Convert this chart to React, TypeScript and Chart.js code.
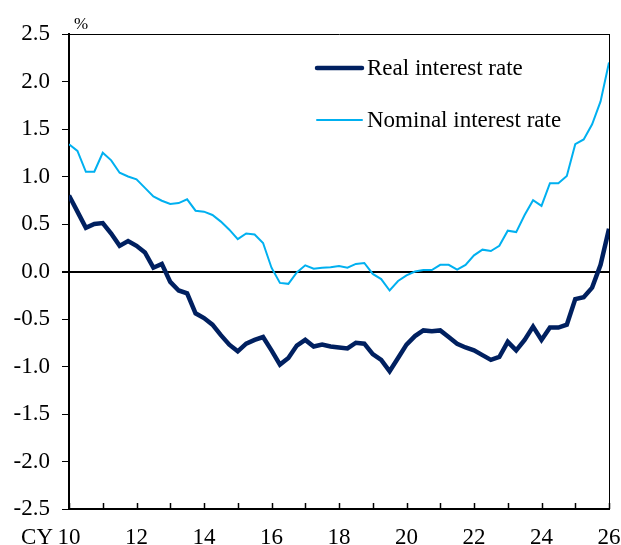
import React, { useEffect, useRef } from 'react';
import { Chart, registerables } from 'chart.js';

Chart.register(...registerables);

// ---- data ----
const FIRST_YEAR = 10;
const LAST_YEAR = 26;
const QUARTERS_PER_YEAR = 4;
const xLabelYears = [10, 12, 14, 16, 18, 20, 22, 24, 26];
const xPrefix = 'CY';
const unitLabel = '%';
const legendLabels = ['Real interest rate', 'Nominal interest rate'];

const realRate = [
  0.80, 0.63, 0.46, 0.50, 0.51, 0.40, 0.27, 0.32, 0.27, 0.20, 0.04, 0.08,
  -0.11, -0.20, -0.23, -0.44, -0.49, -0.56, -0.67, -0.77, -0.84, -0.76, -0.72, -0.69,
  -0.83, -0.98, -0.91, -0.78, -0.72, -0.79, -0.77, -0.79, -0.80, -0.81, -0.75, -0.76,
  -0.87, -0.93, -1.05, -0.91, -0.77, -0.68, -0.62, -0.63, -0.62, -0.69, -0.76, -0.80,
  -0.83, -0.88, -0.93, -0.90, -0.74, -0.83, -0.72, -0.58, -0.72, -0.59, -0.59, -0.56,
  -0.29, -0.27, -0.17, 0.07, 0.45,
];

const nominalRate = [
  1.34, 1.27, 1.05, 1.05, 1.25, 1.17, 1.04, 1.00, 0.97, 0.88, 0.79, 0.745,
  0.71, 0.72, 0.76, 0.64, 0.63, 0.595, 0.525, 0.44, 0.34, 0.40, 0.39, 0.30,
  0.04, -0.12, -0.13, -0.01, 0.065, 0.03, 0.04, 0.045, 0.058, 0.04, 0.08, 0.09,
  -0.026, -0.08, -0.20, -0.10, -0.04, 0.00, 0.016, 0.016, 0.07, 0.07, 0.02, 0.07,
  0.17, 0.23, 0.215, 0.27, 0.43, 0.415, 0.595, 0.75, 0.69, 0.93, 0.93, 1.005,
  1.34, 1.39, 1.55, 1.79, 2.20,
];

const REAL_COLOR = '#002060';
const NOMINAL_COLOR = '#00B0F0';
const FONT = '"Liberation Serif", "Times New Roman", serif';
const FONT_SIZE = 23;

const toPoints = (arr: number[]) =>
  arr.map((v, i) => ({ x: FIRST_YEAR + i / QUARTERS_PER_YEAR, y: v }));

const overlayPlugin = {
  id: 'overlay',
  afterDraw(chart: any) {
    const { ctx, chartArea, scales } = chart;
    const xs = scales.x;
    ctx.save();
    // inward tick marks on x axis
    ctx.strokeStyle = '#000';
    ctx.lineWidth = 1.5;
    for (let yr = FIRST_YEAR; yr <= LAST_YEAR; yr++) {
      const px = Math.round(xs.getPixelForValue(yr)) + 0.5;
      ctx.beginPath();
      ctx.moveTo(px, chartArea.bottom);
      ctx.lineTo(px, chartArea.bottom - 6);
      ctx.stroke();
    }
    // "CY" prefix
    ctx.fillStyle = '#000';
    ctx.font = `${FONT_SIZE}px ${FONT}`;
    ctx.textAlign = 'right';
    ctx.textBaseline = 'alphabetic';
    ctx.fillText(xPrefix, 53, 544);
    // unit
    ctx.font = `17px ${FONT}`;
    ctx.textAlign = 'left';
    ctx.fillText(unitLabel, 74, 29);
    // legend
    const items = [
      { label: legendLabels[0], color: REAL_COLOR, width: 4.5, y: 68 },
      { label: legendLabels[1], color: NOMINAL_COLOR, width: 2, y: 120 },
    ];
    ctx.font = `${FONT_SIZE}px ${FONT}`;
    ctx.textBaseline = 'middle';
    for (const it of items) {
      ctx.strokeStyle = it.color;
      ctx.lineWidth = it.width;
      ctx.lineCap = 'round';
      ctx.beginPath();
      ctx.moveTo(317, it.y);
      ctx.lineTo(362, it.y);
      ctx.stroke();
      ctx.fillStyle = '#000';
      ctx.fillText(it.label, 367, it.y + 1);
    }
    ctx.restore();
  },
};

export default function App() {
  const ref = useRef<HTMLCanvasElement>(null);
  useEffect(() => {
    if (!ref.current) return;
    const chart = new Chart(ref.current, {
      type: 'line',
      data: {
        datasets: [
          {
            label: legendLabels[1],
            data: toPoints(nominalRate),
            borderColor: NOMINAL_COLOR,
            borderWidth: 2,
            pointRadius: 0,
            tension: 0,
            order: 2,
          },
          {
            label: legendLabels[0],
            data: toPoints(realRate),
            borderColor: REAL_COLOR,
            borderWidth: 4.5,
            pointRadius: 0,
            tension: 0,
            order: 1,
          },
        ],
      },
      options: {
        animation: false,
        responsive: false,
        layout: { padding: { left: 0, top: 34, right: 12, bottom: 0 } },
        plugins: { legend: { display: false }, tooltip: { enabled: false } },
        scales: {
          x: {
            type: 'linear',
            min: FIRST_YEAR,
            max: LAST_YEAR,
            afterFit: (s: any) => {
              s.height = 36;
              s.paddingLeft = 0;
              s.paddingRight = 0;
            },
            border: { display: true, color: '#000', width: 2 },
            grid: {
              drawOnChartArea: true,
              drawTicks: false,
              color: (c: any) =>
                c.tick && c.tick.value === LAST_YEAR ? '#000' : 'rgba(0,0,0,0)',
              lineWidth: 1,
            },
            ticks: {
              stepSize: 1,
              autoSkip: false,
              maxRotation: 0,
              padding: 15,
              color: '#000',
              font: { family: FONT, size: FONT_SIZE },
              callback: (v: any) => (xLabelYears.includes(Number(v)) ? String(v) : ''),
            },
          },
          y: {
            min: -2.5,
            max: 2.5,
            afterFit: (s: any) => {
              s.width = 69;
              s.paddingTop = 0;
              s.paddingBottom = 0;
            },
            border: { display: true, color: '#000', width: 2 },
            grid: {
              drawTicks: true,
              tickLength: 7,
              tickColor: '#000',
              color: (c: any) =>
                c.tick && (c.tick.value === 0 || c.tick.value === 2.5)
                  ? '#000'
                  : 'rgba(0,0,0,0)',
              lineWidth: (c: any) => (c.tick && c.tick.value === 0 ? 2 : 1),
            },
            ticks: {
              stepSize: 0.5,
              padding: 12,
              color: '#000',
              font: { family: FONT, size: FONT_SIZE },
              callback: (v: any) => Number(v).toFixed(1),
            },
          },
        },
      },
      plugins: [overlayPlugin],
    } as any);
    return () => chart.destroy();
  }, []);

  return (
    <div style={{ position: 'fixed', left: 0, top: 0, width: 621, height: 545, background: '#fff' }}>
      <canvas ref={ref} width={621} height={545} style={{ display: 'block' }} />
    </div>
  );
}
